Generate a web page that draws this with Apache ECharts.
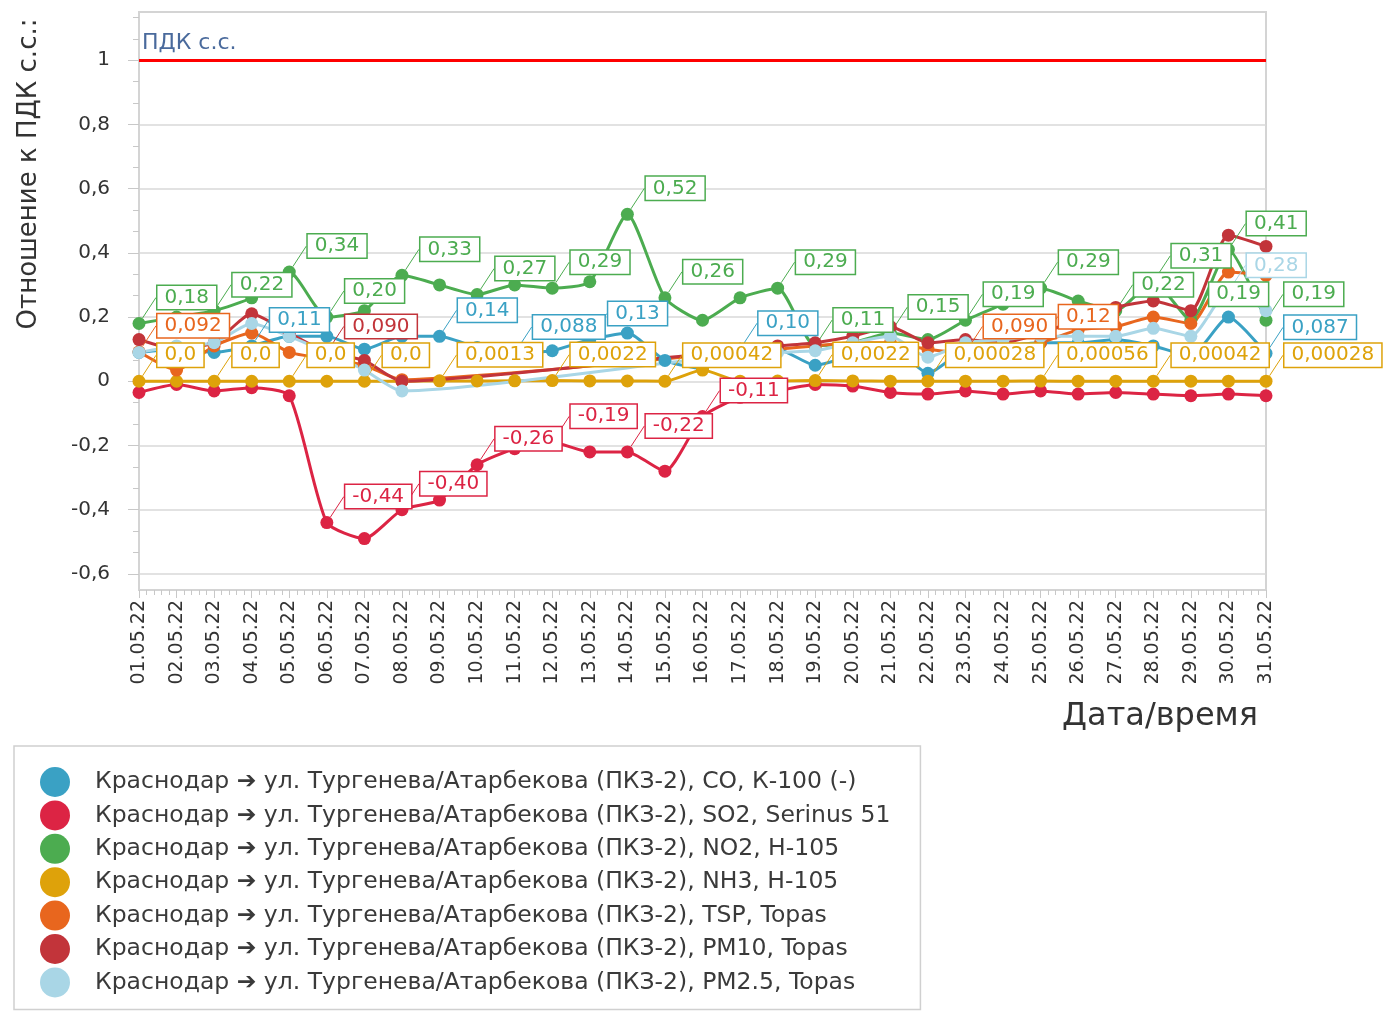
<!DOCTYPE html>
<html>
<head>
<meta charset="utf-8">
<script src="https://cdn.jsdelivr.net/npm/echarts@6/dist/echarts.min.js"></script>
<style>
  html, body { margin: 0; padding: 0; background: #fff; }
  #chart { width: 1386px; height: 1012px; }
</style>
</head>
<body>
<div id="chart"></div>
<script>
const dates = ['01.05.22', '02.05.22', '03.05.22', '04.05.22', '05.05.22', '06.05.22', '07.05.22', '08.05.22',
  '09.05.22', '10.05.22', '11.05.22', '12.05.22', '13.05.22', '14.05.22', '15.05.22', '16.05.22', '17.05.22',
  '18.05.22', '19.05.22', '20.05.22', '21.05.22', '22.05.22', '23.05.22', '24.05.22', '25.05.22', '26.05.22',
  '27.05.22', '28.05.22', '29.05.22', '30.05.22', '31.05.22'];

const yTicks = [-0.6, -0.4, -0.2, 0, 0.2, 0.4, 0.6, 0.8, 1];
const pdkLevel = 1;

// значения по сериям (отношение к ПДК с.с.)
const coValues = [0.09, 0.10, 0.09, 0.11, 0.14, 0.14, 0.10, 0.14, 0.14, 0.105, 0.088, 0.095, 0.13, 0.15, 0.065, 0.04,
  0.10, 0.10, 0.05, 0.08, 0.11, 0.025, 0.10, 0.11, 0.12, 0.12, 0.13, 0.11, 0.08, 0.20, 0.087];
const so2Values = [-0.035, -0.01, -0.03, -0.02, -0.045, -0.44, -0.49, -0.40, -0.37, -0.26, -0.21, -0.19, -0.22, -0.22,
  -0.28, -0.11, -0.05, -0.03, -0.01, -0.015, -0.035, -0.04, -0.03, -0.04, -0.03, -0.04, -0.035, -0.04, -0.045, -0.04, -0.045];
const no2Values = [0.18, 0.20, 0.22, 0.26, 0.34, 0.20, 0.22, 0.33, 0.30, 0.27, 0.30, 0.29, 0.31, 0.52, 0.26, 0.19,
  0.26, 0.29, 0.11, 0.12, 0.15, 0.13, 0.19, 0.24, 0.29, 0.25, 0.22, 0.31, 0.19, 0.41, 0.19];
const nh3Values = [0, 0, 0, 0, 0, 0, 0, 0, 0.0013, 0.001, 0.0015, 0.0022, 0.001, 0.0008, 0.00042, 0.035,
  0.0003, 0.0005, 0.0022, 0.001, 0.0004, 0.00028, 0.0003, 0.0004, 0.00056, 0.0003, 0.0004, 0.00042, 0.0003, 0.0003, 0.00028];
const tspValues = [0.092, 0.035, 0.11, 0.15, 0.09, 0.07, 0.05, 0.005, null, null, null, null, null, null, null, 0.08,
  0.09, 0.10, 0.11, 0.12, 0.12, 0.10, 0.09, 0.10, 0.12, 0.16, 0.17, 0.20, 0.18, 0.34, 0.33];
const pm10Values = [0.13, 0.10, 0.12, 0.21, 0.15, 0.09, 0.065, 0.0, null, null, null, null, null, null, null, 0.085,
  0.10, 0.11, 0.12, 0.14, 0.17, 0.12, 0.13, 0.12, 0.15, 0.19, 0.23, 0.25, 0.22, 0.455, 0.42];
const pm25Values = [0.09, 0.11, 0.12, 0.18, 0.14, 0.09, 0.035, -0.03, null, null, null, null, null, null, null, 0.07,
  0.08, 0.09, 0.095, 0.12, 0.14, 0.075, 0.12, 0.13, 0.14, 0.14, 0.14, 0.165, 0.14, 0.28, 0.22];

// точки с подписями
const coLabelIdx = [3, 8, 10, 12, 16, 30];
const so2LabelIdx = [5, 7, 9, 11, 13, 15];
const no2LabelIdx = [0, 2, 4, 5, 7, 9, 11, 13, 14, 17, 18, 20, 22, 24, 26, 27, 28, 29, 30];
const nh3LabelIdx = [0, 2, 4, 6, 8, 11, 14, 18, 21, 24, 27, 30];
const tspLabelIdx = [0, 22, 24];
const pm10LabelIdx = [5];
const pm25LabelIdx = [29];

const prefix = 'Краснодар ➔ ул. Тургенева/Атарбекова (ПКЗ-2), ';
const seriesDefs = [
  { name: prefix + 'CO, К-100 (-)', color: '#3aa1c4', values: coValues, labels: coLabelIdx },
  { name: prefix + 'SO2, Serinus 51', color: '#dc2444', values: so2Values, labels: so2LabelIdx },
  { name: prefix + 'NO2, Н-105', color: '#4cac50', values: no2Values, labels: no2LabelIdx },
  { name: prefix + 'NH3, Н-105', color: '#dea20a', values: nh3Values, labels: nh3LabelIdx },
  { name: prefix + 'TSP, Topas', color: '#e8661e', values: tspValues, labels: tspLabelIdx },
  { name: prefix + 'PM10, Topas', color: '#c2343a', values: pm10Values, labels: pm10LabelIdx },
  { name: prefix + 'PM2.5, Topas', color: '#a9d6e6', values: pm25Values, labels: pm25LabelIdx },
];

const FONT = 'DejaVu Sans';
const fmt = (v) => Number(v).toPrecision(2).replace('.', ',');

const series = seriesDefs.map((s, si) => ({
  name: s.name,
  type: 'line',
  smooth: 0.2,
  connectNulls: true,
  symbol: 'circle',
  symbolSize: 13,
  color: s.color,
  lineStyle: { width: 3, color: s.color },
  itemStyle: { color: s.color },
  data: s.values.map((v, i) => (s.labels.includes(i) && v !== null ? { value: v, label: { show: true } } : v)),
  label: {
    show: false,
    position: 'right',
    formatter: (p) => fmt(p.value),
    fontFamily: FONT,
    fontSize: 20,
    color: s.color,
    backgroundColor: '#fff',
    borderColor: s.color,
    borderWidth: 1.5,
    padding: [2, 7, 1, 7],
  },
  labelLayout: { dx: 7, dy: -26 },
  labelLine: { show: true, lineStyle: { color: s.color, width: 1 } },
  markLine: si === 0 ? {
    silent: true,
    symbol: 'none',
    lineStyle: { color: '#ff0000', width: 3, type: 'solid' },
    label: {
      position: 'insideStartTop',
      formatter: 'ПДК с.с.',
      color: '#4a6a9c',
      fontFamily: FONT,
      fontSize: 22,
      distance: [3, 6],
    },
    data: [{ yAxis: pdkLevel }],
  } : undefined,
}));

const minorYTicks = [];
for (let k = -9; k <= 17; k++) minorYTicks.push(k * 0.2 / 3);

const myChart = echarts.init(document.getElementById('chart'));
const option = {
  animation: false,
  backgroundColor: '#fff',
  grid: {
    left: 139, right: 120, top: 12, bottom: 422,
    show: true, borderColor: '#d4d4d4', borderWidth: 2,
  },
  legend: {
    orient: 'vertical',
    left: 14,
    top: 746,
    padding: [21, 30, 12, 26],
    itemGap: 3.4,
    itemWidth: 36,
    itemHeight: 30,
    icon: 'circle',
    selectedMode: false,
    backgroundColor: '#fff',
    borderColor: '#d0d0d0',
    borderWidth: 1.5,
    textStyle: { fontFamily: FONT, fontSize: 23.5, color: '#3a3a3a', padding: [0, 0, 0, 17] },
  },
  xAxis: [
    {
      type: 'category',
      data: dates,
      boundaryGap: false,
      position: 'bottom',
      axisLine: { onZero: false, lineStyle: { color: '#d4d4d4', width: 2 } },
      axisTick: { show: true, length: 8, lineStyle: { color: '#c8c8c8' } },
      axisLabel: { interval: 0, rotate: 90, margin: 10, fontFamily: FONT, fontSize: 19, color: '#333' },
      splitLine: { show: false },
    },
    {
      type: 'value',
      min: 0,
      max: dates.length - 1,
      interval: 1,
      position: 'bottom',
      axisLine: { show: false, onZero: false },
      axisLabel: { show: false },
      axisTick: { show: false },
      minorTick: { show: true, splitNumber: 5, length: 5, lineStyle: { color: '#c8c8c8' } },
      splitLine: { show: false },
    },
  ],
  yAxis: [
    {
      type: 'value',
      min: -0.65,
      max: 1.15,
      position: 'left',
      axisLine: { show: true, onZero: false, lineStyle: { color: '#d4d4d4', width: 2 } },
      axisTick: { show: true, length: 11, customValues: yTicks, lineStyle: { color: '#c8c8c8' } },
      axisLabel: {
        customValues: yTicks,
        margin: 29,
        fontFamily: FONT,
        fontSize: 20,
        color: '#333',
        formatter: (v) => String(Math.round(v * 10) / 10).replace('.', ','),
      },
      splitLine: { show: true, lineStyle: { color: '#d8d8d8', width: 1.5 } },
    },
    {
      type: 'value',
      min: -0.65,
      max: 1.15,
      position: 'left',
      axisLine: { show: false, onZero: false },
      axisLabel: { show: false },
      axisTick: { show: true, length: 6, customValues: minorYTicks, lineStyle: { color: '#c8c8c8' } },
      splitLine: { show: false },
    },
  ],
  graphic: [
    {
      type: 'text',
      x: 29,
      y: 174,
      rotation: Math.PI / 2,
      style: {
        text: 'Отношение к ПДК с.с.:',
        fontFamily: FONT,
        fontSize: 26,
        fill: '#333',
        textAlign: 'center',
        textVerticalAlign: 'middle',
      },
    },
    {
      type: 'text',
      x: 1258,
      y: 717,
      style: {
        text: 'Дата/время',
        fontFamily: FONT,
        fontSize: 32,
        fill: '#333',
        textAlign: 'right',
        textVerticalAlign: 'middle',
      },
    },
  ],
  series,
};

myChart.setOption(option);
</script>
</body>
</html>
